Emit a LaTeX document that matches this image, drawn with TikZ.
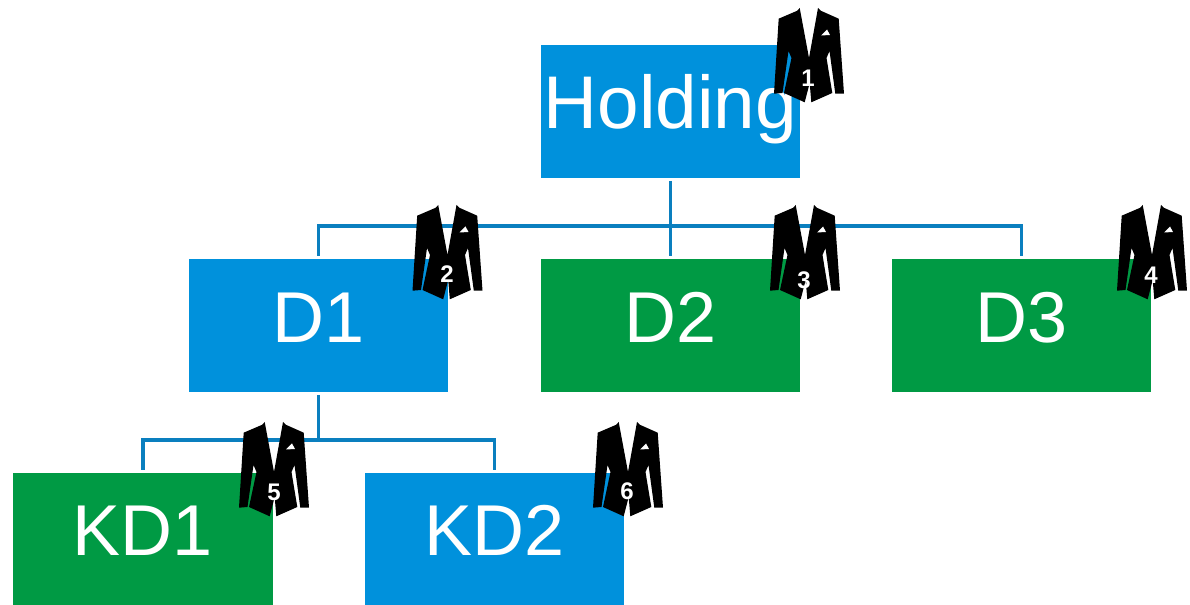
\documentclass[tikz,border=0pt]{standalone}
\usepackage{fontspec}
\setmainfont{Liberation Sans}
\usepackage{tikz}
\usetikzlibrary{positioning}
\definecolor{boxblue}{HTML}{0091DC}
\definecolor{boxgreen}{HTML}{009A44}
\definecolor{linkblue}{HTML}{0A7FBF}
\tikzstyle{box}   = [minimum width=194.5pt, minimum height=99.5pt, inner sep=0pt, outer sep=2.2pt, text=white, text height=39pt, text depth=14pt, font=\fontsize{54}{54}\selectfont]
\tikzstyle{blue}  = [box, fill=boxblue]
\tikzstyle{green} = [box, fill=boxgreen]
\tikzstyle{link}  = [draw=linkblue, line width=2.3pt]
\tikzstyle{num}   = [text=white, inner sep=0pt, font=\fontsize{18}{18}\selectfont\bfseries]
\tikzset{
  pics/jacket/.style={code={
    \fill [black] (-9.3,0) -- (-11.7,2.7) -- (-30.3,10.7) -- (-35,85.7) -- (-26.5,85) -- (-20.5,43)
      -- (-17.5,50) -- (-25,85) -- (-4.3,94.3) -- (0.7,75) -- (2.3,94.3) -- (23.3,85) -- (17.5,50)
      -- (20.5,43) -- (26.3,85.7) -- (35,85.7) -- (29.7,10.7) -- (11.7,2.7) -- (9,0) -- (0,50) -- cycle;
    \fill [white] (12,27.5) -- (15.5,24) -- (18,21.5) -- (21,27) -- cycle;
  }}
}

\begin{document}
\begin{tikzpicture}[x=0.75pt, y=-0.75pt]
\useasboundingbox (0,0) rectangle (1190,605);

% nodes
\node [blue, font=\fontsize{56}{56}\selectfont] at ( 670.5, 111.5) (holding) {Holding};
\node [blue]  at ( 318.5, 325.5) (d1)      {D1};
\node [green] at ( 670.5, 325.5) (d2)      {D2};
\node [green] at (1021.5, 325.5) (d3)      {D3};
\node [green] at ( 143  , 539  ) (kd1)     {KD1};
\node [blue]  at ( 494.5, 539  ) (kd2)     {KD2};

\coordinate (bus1) at (670.5, 226);
\coordinate (bus2) at (318.5, 440);

% edges
\path [link] (holding.south) -- (d2.north);
\path [link] (bus1) -| (d1.north);
\path [link] (bus1) -| (d3.north);
\path [link] (d1.south) -- (bus2);
\path [link] (bus2) -| (kd1.north);
\path [link] (bus2) -| (kd2.north);

% jackets
\pic at ( 809, 8)   {jacket};
\pic at ( 447.5, 205) {jacket};
\pic at ( 805, 205) {jacket};
\pic at (1152, 205) {jacket};
\pic at ( 274, 422) {jacket};
\pic at ( 628, 422) {jacket};

\node [num] at ( 808,  78) (n1) {1};
\node [num] at ( 447, 274) (n2) {2};
\node [num] at ( 804, 280) (n3) {3};
\node [num] at (1151, 275) (n4) {4};
\node [num] at ( 274, 492) (n5) {5};
\node [num] at ( 627, 491) (n6) {6};

\end{tikzpicture}
\end{document}
